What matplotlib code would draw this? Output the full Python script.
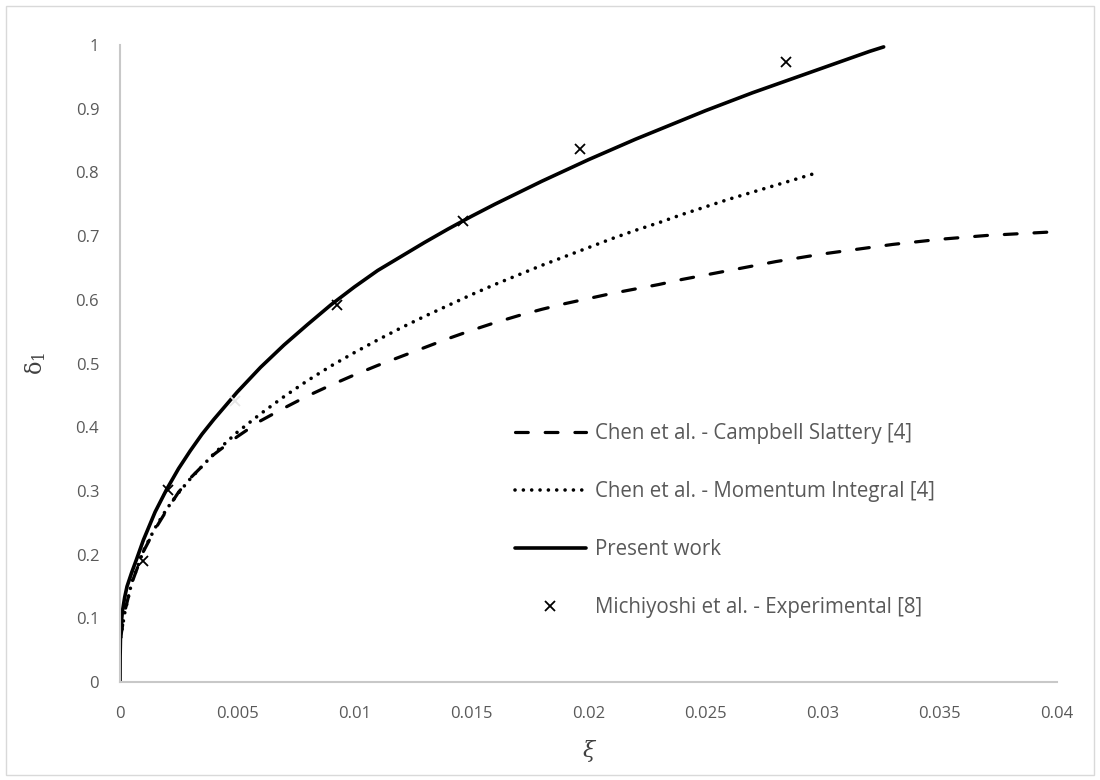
import matplotlib
matplotlib.use("Agg")
import matplotlib.pyplot as plt
from matplotlib.patches import Rectangle

# Chen et al. - Campbell Slattery [4]  (dashed)
xi_cs = [0.00003, 0.0002, 0.0005, 0.001, 0.0015, 0.002, 0.0025, 0.003, 0.004, 0.005,
         0.006, 0.007, 0.008, 0.009, 0.010, 0.011, 0.012, 0.013, 0.014, 0.015,
         0.016, 0.017, 0.018, 0.019, 0.020, 0.021, 0.022, 0.023, 0.024, 0.025,
         0.026, 0.027, 0.028, 0.029, 0.030, 0.031, 0.032, 0.033, 0.034, 0.035,
         0.036, 0.037, 0.038, 0.039, 0.040]
d_cs = [0.07, 0.11, 0.155, 0.205, 0.24, 0.27, 0.298, 0.32, 0.357, 0.385,
        0.41, 0.43, 0.449, 0.466, 0.482, 0.497, 0.511, 0.525, 0.539, 0.552,
        0.564, 0.575, 0.585, 0.594, 0.602, 0.610, 0.617, 0.624, 0.632, 0.639,
        0.646, 0.653, 0.660, 0.666, 0.672, 0.677, 0.682, 0.687, 0.691, 0.695,
        0.698, 0.701, 0.703, 0.705, 0.707]

# Chen et al. - Momentum Integral [4]  (dotted)
xi_mi = [0.00003, 0.0002, 0.0005, 0.001, 0.0015, 0.002, 0.0025, 0.003, 0.004, 0.005,
         0.006, 0.007, 0.008, 0.009, 0.010, 0.011, 0.012, 0.013, 0.014, 0.015,
         0.016, 0.017, 0.018, 0.019, 0.020, 0.021, 0.022, 0.023, 0.024, 0.025,
         0.026, 0.027, 0.028, 0.029, 0.0298]
d_mi = [0.07, 0.108, 0.156, 0.206, 0.242, 0.272, 0.297, 0.319, 0.358, 0.392,
        0.421, 0.448, 0.473, 0.496, 0.517, 0.537, 0.556, 0.574, 0.591, 0.608,
        0.624, 0.639, 0.654, 0.668, 0.682, 0.696, 0.709, 0.721, 0.734, 0.746,
        0.758, 0.769, 0.780, 0.791, 0.800]

# Present work  (solid)
xi_pw = [0, 0.000005, 0.00002, 0.00005, 0.0001, 0.0002, 0.0003, 0.0005, 0.0007, 0.001,
         0.0015, 0.002, 0.0025, 0.003, 0.0035, 0.004, 0.005, 0.006, 0.007, 0.008,
         0.009, 0.010, 0.011, 0.012, 0.013, 0.014, 0.015, 0.016, 0.017, 0.018,
         0.019, 0.020, 0.021, 0.022, 0.023, 0.024, 0.025, 0.026, 0.027, 0.028,
         0.029, 0.030, 0.031, 0.032, 0.0326]
d_pw = [0, 0.04, 0.07, 0.09, 0.11, 0.133, 0.15, 0.172, 0.192, 0.223,
        0.267, 0.303, 0.335, 0.363, 0.389, 0.412, 0.455, 0.494, 0.529, 0.561,
        0.592, 0.620, 0.646, 0.668, 0.690, 0.711, 0.731, 0.750, 0.768, 0.786,
        0.803, 0.820, 0.836, 0.852, 0.867, 0.882, 0.897, 0.911, 0.925, 0.938,
        0.951, 0.964, 0.977, 0.990, 0.997]

# Michiyoshi et al. - Experimental [8]
xi_exp = [0.001, 0.00206, 0.00925, 0.01466, 0.01964, 0.02842]
d_exp = [0.19, 0.301, 0.592, 0.723, 0.837, 0.973]
xi_faint = [0.0049]
d_faint = [0.441]

xticks = [0, 0.005, 0.01, 0.015, 0.02, 0.025, 0.03, 0.035, 0.04]
xtick_labels = ["0", "0.005", "0.01", "0.015", "0.02", "0.025", "0.03", "0.035", "0.04"]
yticks = [0, 0.1, 0.2, 0.3, 0.4, 0.5, 0.6, 0.7, 0.8, 0.9, 1]
ytick_labels = ["0", "0.1", "0.2", "0.3", "0.4", "0.5", "0.6", "0.7", "0.8", "0.9", "1"]

plt.rcParams['font.family'] = ['Open Sans', 'DejaVu Sans']
grey = '#595959'

fig = plt.figure(figsize=(11, 7.8), dpi=100)
ax = fig.add_axes([120 / 1100, 98 / 780, 937 / 1100, 637 / 780])

ax.plot(xi_cs, d_cs, color='k', lw=2.3, dashes=(4, 5.3), dash_capstyle='round',
        label='Chen et al. - Campbell Slattery [4]')
ax.plot(xi_mi, d_mi, color='k', lw=2.6, dashes=(0.01, 2.3), dash_capstyle='round',
        label='Chen et al. - Momentum Integral [4]')
ax.plot(xi_pw, d_pw, color='k', lw=2.6, solid_capstyle='round', label='Present work')
ax.plot(xi_exp, d_exp, linestyle='none', marker='x', color='k', markersize=7,
        markeredgewidth=1.3, label='Michiyoshi et al. - Experimental [8]')
ax.plot(xi_faint, d_faint, linestyle='none', marker='x', color='#E6E6E6', markersize=7,
        markeredgewidth=1.3)

ax.set_xlim(0, 0.04)
ax.set_ylim(0, 1)
ax.set_xticks(xticks)
ax.set_xticklabels(xtick_labels)
ax.set_yticks(yticks)
ax.set_yticklabels(ytick_labels)
ax.tick_params(axis='both', length=0, labelsize=12, labelcolor=grey)
ax.tick_params(axis='x', pad=17)
ax.tick_params(axis='y', pad=15)

for s in ['top', 'right']:
    ax.spines[s].set_visible(False)
for s in ['left', 'bottom']:
    ax.spines[s].set_color('#C8C8C8')
    ax.spines[s].set_linewidth(1.5)

ax.set_ylabel(r'$\mathregular{δ_1}$', fontsize=16, color='#404040', labelpad=20,
              family=['DejaVu Serif'])
ax.set_xlabel('ξ', fontsize=16, color='#404040', labelpad=13,
              family=['DejaVu Serif'], style='italic')

leg = ax.legend(loc='upper left', bbox_to_anchor=(515 / 1100, 1 - 423 / 780),
                bbox_transform=fig.transFigure, frameon=False, fontsize=14.8,
                handlelength=3.45, handletextpad=0.44, labelspacing=1.8,
                borderpad=0, borderaxespad=0)
for t in leg.get_texts():
    t.set_color(grey)

fig.patches.append(Rectangle((6 / 1100, 5 / 780), 1088 / 1100, 769 / 780,
                             transform=fig.transFigure, fill=False,
                             edgecolor='#D9D9D9', lw=1))

fig.savefig('out.png', dpi=100)
